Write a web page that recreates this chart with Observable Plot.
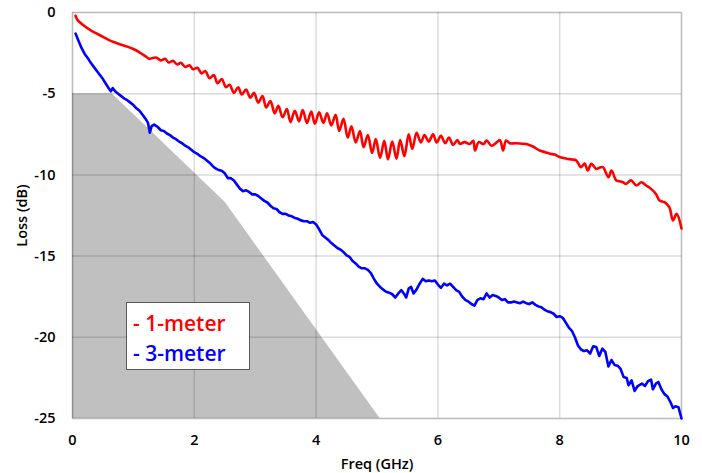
<!DOCTYPE html>
<html>
<head>
<meta charset="utf-8">
<script src="https://cdn.jsdelivr.net/npm/d3@7"></script>
<script src="https://cdn.jsdelivr.net/npm/@observablehq/plot@0.6"></script>
<style>
  html, body { margin: 0; padding: 0; background: #fff; }
  #wrap { position: relative; width: 702px; height: 473px; font-family: "Open Sans", sans-serif; }
  #legend { position: absolute; left: 126px; top: 302px; width: 124px; height: 68px; background: #fff;
            border: 1.5px solid #595959; font-family: "Open Sans", sans-serif; font-weight: 600; font-size: 21px; line-height: 30px; padding: 5px 0 0 6px; box-sizing: border-box; }
  #legend div { white-space: nowrap; }
</style>
</head>
<body>
<div id="wrap"></div>
<script>
// ---- data ----
const xTicks = [0, 2, 4, 6, 8, 10];
const yTicks = [0, -5, -10, -15, -20, -25];
const seriesNames = ["1-meter", "3-meter"];
const seriesColors = ["#ff0000", "#0000ff"];

// limit mask (shaded region, filled down to -25 dB)
const maskPoints = [[0, -5], [0.65, -5], [2.51, -11.7], [5.05, -25]];

// 1-meter loss [GHz, dB]
const loss1m = [
  [0.05,-0.2],[0.08,-0.45],[0.12,-0.6],[0.2,-0.85],[0.3,-1.1],[0.4,-1.3],[0.5,-1.5],[0.6,-1.7],[0.7,-1.85],
  [0.8,-1.98],[0.9,-2.1],[1.0,-2.25],[1.1,-2.45],[1.2,-2.7],[1.26,-2.85],[1.32,-2.8],
  [1.38,-2.78],[1.45,-2.95],[1.52,-2.85],[1.58,-3.08],[1.65,-2.98],[1.72,-3.2],[1.78,-3.1],[1.85,-3.35],
  [1.92,-3.25],[1.98,-3.5],[2.05,-3.4],[2.12,-3.75],[2.18,-3.6],[2.25,-4.05],[2.32,-3.85],[2.38,-4.35],
  [2.45,-4.1],[2.52,-4.6],[2.58,-4.45],[2.65,-4.95],[2.72,-4.6],[2.78,-5.05],[2.85,-4.75],[2.92,-5.25],
  [2.98,-4.95],[3.05,-5.55],[3.12,-5.15],[3.18,-5.85],[3.25,-5.45],[3.32,-6.2],[3.38,-5.75],[3.45,-6.45],
  [3.52,-5.95],[3.58,-6.75],[3.65,-6.05],[3.72,-6.7],[3.78,-6.0],[3.85,-6.8],[3.92,-6.1],[3.98,-6.85],
  [4.05,-6.15],[4.12,-6.8],[4.18,-6.2],[4.25,-6.95],[4.32,-6.3],[4.38,-7.3],[4.45,-6.55],[4.52,-7.7],
  [4.58,-7.0],[4.65,-8.0],[4.72,-7.3],[4.78,-8.3],[4.85,-7.55],[4.92,-8.65],[4.98,-7.8],[5.05,-8.95],
  [5.12,-7.9],[5.18,-9.05],[5.25,-7.95],[5.32,-9.0],[5.38,-7.85],[5.45,-8.85],[5.52,-7.5],[5.58,-8.4],
  [5.65,-7.4],[5.72,-8.0],[5.78,-7.55],[5.85,-7.95],[5.92,-7.5],[5.98,-8.0],[6.05,-7.6],[6.12,-8.05],
  [6.18,-7.7],[6.25,-8.15],[6.32,-7.85],[6.36,-8.08],[6.44,-7.98],[6.52,-8.1],[6.58,-7.9],[6.61,-8.5],
  [6.67,-7.98],[6.75,-8.1],[6.8,-7.88],[6.88,-8.2],[6.97,-7.98],[7.02,-7.86],[7.07,-8.5],[7.12,-7.88],
  [7.18,-8.05],[7.28,-8.05],[7.38,-8.08],[7.45,-8.1],[7.56,-8.25],[7.67,-8.5],[7.76,-8.6],[7.84,-8.7],
  [7.92,-8.75],[8.0,-8.9],[8.11,-9.0],[8.2,-9.05],[8.27,-9.1],[8.35,-9.52],[8.41,-9.3],[8.46,-9.73],
  [8.52,-9.32],[8.6,-9.63],[8.66,-9.55],[8.71,-9.52],[8.8,-10.14],[8.85,-9.73],[8.93,-10.34],[9.0,-10.4],
  [9.04,-10.45],[9.09,-10.55],[9.17,-10.34],[9.26,-10.65],[9.34,-10.45],[9.42,-10.65],[9.5,-10.86],
  [9.58,-11.17],[9.64,-11.58],[9.72,-11.68],[9.8,-11.99],[9.86,-12.8],[9.92,-12.4],[10.0,-13.3]
];

// 3-meter loss [GHz, dB]
const loss3m = [
  [0.05,-1.3],[0.1,-1.75],[0.15,-2.2],[0.2,-2.55],[0.25,-2.8],[0.3,-3.1],[0.35,-3.35],[0.4,-3.6],[0.45,-3.85],
  [0.5,-4.1],[0.55,-4.4],[0.6,-4.7],[0.63,-4.85],[0.66,-4.65],[0.7,-4.85],[0.75,-5.0],[0.8,-5.15],[0.85,-5.3],
  [0.9,-5.4],[0.95,-5.55],[1.0,-5.7],[1.05,-5.9],[1.1,-6.05],[1.15,-6.3],[1.2,-6.55],[1.24,-6.8],[1.27,-7.4],
  [1.3,-7.0],[1.34,-6.9],[1.4,-7.05],[1.45,-7.25],[1.5,-7.3],[1.55,-7.45],[1.6,-7.55],[1.65,-7.7],[1.7,-7.8],
  [1.75,-7.95],[1.8,-8.05],[1.85,-8.2],[1.9,-8.3],[1.95,-8.45],[2.0,-8.6],[2.05,-8.7],[2.1,-8.85],[2.15,-8.95],
  [2.2,-9.1],[2.25,-9.25],[2.3,-9.45],[2.35,-9.6],[2.4,-9.7],[2.45,-9.75],[2.5,-9.9],[2.55,-10.2],[2.6,-10.2],
  [2.65,-10.35],[2.7,-10.6],[2.75,-10.85],[2.8,-11.0],[2.85,-10.95],[2.9,-11.05],[2.95,-11.2],[3.0,-11.2],
  [3.05,-11.3],[3.1,-11.45],[3.15,-11.6],[3.2,-11.7],[3.25,-11.9],[3.3,-12.05],[3.35,-12.1],[3.4,-12.3],
  [3.45,-12.4],[3.5,-12.4],[3.55,-12.5],[3.6,-12.55],[3.65,-12.65],[3.7,-12.7],[3.75,-12.8],[3.8,-12.85],
  [3.85,-12.85],[3.9,-12.95],[3.95,-12.9],[4.0,-13.05],[4.05,-13.35],[4.1,-13.7],[4.15,-13.85],[4.2,-14.0],
  [4.25,-14.2],[4.3,-14.35],[4.35,-14.5],[4.4,-14.6],[4.45,-14.75],[4.5,-14.95],[4.55,-15.05],[4.6,-15.3],
  [4.65,-15.45],[4.7,-15.65],[4.75,-15.75],[4.8,-15.75],[4.85,-15.85],[4.9,-16.05],[4.95,-16.4],[5.0,-16.7],
  [5.05,-16.9],[5.1,-17.05],[5.15,-17.2],[5.2,-17.25],[5.25,-17.35],[5.3,-17.55],[5.35,-17.3],[5.4,-17.1],
  [5.45,-17.35],[5.48,-17.55],[5.52,-17.0],[5.56,-16.9],[5.6,-17.3],[5.65,-17.05],[5.7,-16.7],[5.75,-16.4],
  [5.8,-16.55],[5.85,-16.5],[5.9,-16.55],[5.95,-16.5],[6.0,-16.75],[6.05,-16.95],[6.1,-16.7],[6.15,-16.8],
  [6.2,-16.7],[6.25,-16.9],[6.3,-17.1],[6.35,-17.2],[6.4,-17.5],[6.45,-17.7],[6.5,-17.8],[6.55,-17.95],
  [6.6,-18.05],[6.65,-17.7],[6.7,-17.6],[6.75,-17.65],[6.8,-17.3],[6.85,-17.55],[6.9,-17.4],[6.95,-17.45],
  [7.0,-17.55],[7.05,-17.7],[7.1,-17.65],[7.15,-17.85],[7.2,-17.85],[7.25,-17.8],[7.3,-17.85],[7.35,-17.9],
  [7.4,-17.8],[7.45,-17.9],[7.5,-17.95],[7.55,-17.85],[7.6,-18.0],[7.65,-18.1],[7.7,-18.15],[7.75,-18.3],
  [7.8,-18.4],[7.85,-18.45],[7.9,-18.55],[7.95,-18.75],[8.0,-18.7],[8.05,-18.8],[8.1,-19.1],[8.15,-19.4],
  [8.2,-19.6],[8.25,-20.0],[8.3,-20.5],[8.35,-20.75],[8.4,-20.85],[8.45,-20.8],[8.5,-21.0],[8.55,-20.55],
  [8.6,-20.6],[8.65,-21.15],[8.7,-20.7],[8.75,-20.9],[8.8,-21.8],[8.85,-21.4],[8.9,-21.7],[8.95,-21.75],
  [9.0,-21.95],[9.05,-22.45],[9.1,-22.5],[9.13,-22.95],[9.18,-22.65],[9.23,-23.3],[9.28,-23.0],[9.35,-22.85],
  [9.4,-23.0],[9.45,-22.7],[9.5,-22.6],[9.53,-23.2],[9.58,-22.85],[9.62,-22.75],[9.67,-23.2],[9.72,-23.5],
  [9.77,-23.65],[9.82,-24.0],[9.86,-24.35],[9.9,-24.25],[9.95,-24.3],[10.0,-25.0]
];

// ---- chart ----
const chart = Plot.plot({
  width: 702,
  height: 473,
  marginLeft: 72,
  marginRight: 21,
  marginTop: 12,
  marginBottom: 55,
  style: { fontFamily: "'Open Sans', sans-serif", fontSize: "14px", fontWeight: 600, color: "#000", background: "#fff" },
  x: { domain: [0, 10] },
  y: { domain: [-25, 0] },
  marks: [
    Plot.areaY(maskPoints, { x: d => d[0], y1: -25, y2: d => d[1], fill: "#c0c0c0", curve: "linear" }),
    Plot.gridX(xTicks, { stroke: "#000", strokeOpacity: 0.14, strokeWidth: 1.5 }),
    Plot.gridY(yTicks, { stroke: "#000", strokeOpacity: 0.14, strokeWidth: 1.5 }),
    Plot.frame({ stroke: "#000", strokeOpacity: 0.14, strokeWidth: 1.5 }),
    Plot.line(loss1m, { x: d => d[0], y: d => d[1], stroke: seriesColors[0], strokeWidth: 2.6, curve: "catmull-rom" }),
    Plot.line(loss3m, { x: d => d[0], y: d => d[1], stroke: seriesColors[1], strokeWidth: 2.6, curve: "linear" }),
    Plot.axisX(xTicks, { tickSize: 0, tickPadding: 16, fontSize: 14.5, tickFormat: d => String(d), label: "Freq (GHz)", labelAnchor: "center", labelArrow: "none", labelOffset: 50 }),
    Plot.axisY(yTicks, { tickSize: 0, tickPadding: 17, fontSize: 14.5, tickFormat: d => String(d), label: "Loss (dB)", labelAnchor: "center", labelArrow: "none", labelOffset: 56 })
  ]
});
const wrap = document.getElementById("wrap");
wrap.appendChild(chart);
const legend = document.createElement("div");
legend.id = "legend";
seriesNames.forEach((n, i) => {
  const row = document.createElement("div");
  row.textContent = "- " + n;
  row.style.color = seriesColors[i];
  legend.appendChild(row);
});
wrap.appendChild(legend);
</script>
</body>
</html>
